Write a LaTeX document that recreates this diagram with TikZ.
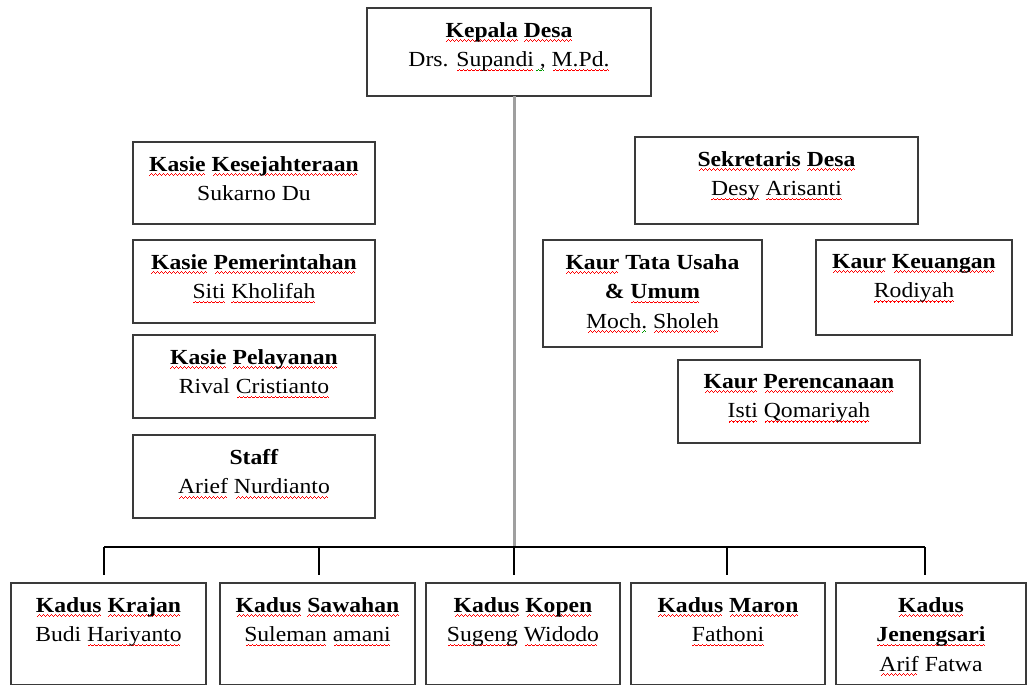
\documentclass[tikz,border=0pt]{standalone}
\usepackage{fontspec}
\setmainfont{Liberation Serif}[FakeStretch=1.1]
\usepackage{xcolor}
\newcommand\wavepiece{\hbox{\rule[-4.8pt]{1pt}{1.1pt}\rule[-4.0pt]{1pt}{1.1pt}\rule[-3.2pt]{1pt}{1.1pt}\rule[-4.0pt]{1pt}{1.1pt}}}
\newsavebox\wavebox
\newcommand\wavemark[2]{\sbox\wavebox{#2}\rlap{\textcolor{#1}{\hbox to \wd\wavebox{\cleaders\wavepiece\hfill}}}\usebox\wavebox}
\newcommand\rw[1]{\wavemark{red}{#1}}
\newcommand\gw[1]{\wavemark{green!60!black}{#1}}
\definecolor{boxline}{HTML}{3A3A3A}
\newcommand\obox[6]{%
  \node[orgbox, minimum width={(#4-#2)*1pt}, minimum height={(#5-#3)*1pt}] (#1) at ({(#2+#4)/2},{(#3+#5)/2}) {};
  \node[lbl] (#1-t) at ([yshift=-14pt]#1.north) {#6};
}
\begin{document}
\begin{tikzpicture}[x=1pt,y=-1pt,
  orgbox/.style={draw=boxline, line width=1.5pt, fill=white, inner sep=0pt, outer sep=0pt},
  lbl/.style={anchor=north, inner sep=0pt, align=center, font=\fontsize{21.5}{29.5}\selectfont, execute at begin node={\rule{0pt}{16pt}}},
  conn/.style={draw=black, line width=1.4pt},
  mainline/.style={draw=gray!75, line width=3pt}]
\fill[white] (0,0) rectangle (1028,686);
\useasboundingbox (0,0) rectangle (1028,686);

\obox{kepala}{367}{8}{651}{96}{\textbf{\rw{Kepala} \rw{Desa}}\\Drs. \rw{Supandi}\gw{\ ,} \rw{M.Pd.}}

\obox{kes}{133}{142}{375}{224}{\textbf{\rw{Kasie} \rw{Kesejahteraan}}\\Sukarno Du}
\obox{pem}{133}{240}{375}{323}{\textbf{\rw{Kasie} \rw{Pemerintahan}}\\\rw{Siti} \rw{Kholifah}}
\obox{pel}{133}{335}{375}{418}{\textbf{\rw{Kasie} \rw{Pelayanan}}\\Rival \rw{Cristianto}}
\obox{staff}{133}{435}{375}{518}{\textbf{Staff}\\\rw{Arief} \rw{Nurdianto}}

\obox{sek}{635}{137}{918}{224}{\textbf{\rw{Sekretaris} \rw{Desa}}\\\rw{Desy} \rw{Arisanti}}
\obox{tata}{543}{240}{762}{347}{\textbf{\rw{Kaur} Tata Usaha}\\\textbf{\& \rw{Umum}}\\\rw{Moch}\gw{.} \rw{Sholeh}}
\obox{keu}{816}{240}{1012}{335}{\textbf{\rw{Kaur} \rw{Keuangan}}\\\rw{Rodiyah}}
\obox{ren}{678}{360}{920}{443}{\textbf{\rw{Kaur} \rw{Perencanaan}}\\\rw{Isti} \rw{Qomariyah}}

\obox{krajan}{11}{583}{206}{684.5}{\textbf{\rw{Kadus} \rw{Krajan}}\\Budi \rw{Hariyanto}}
\obox{sawahan}{220}{583}{415}{684.5}{\textbf{\rw{Kadus} \rw{Sawahan}}\\\rw{Suleman} \rw{amani}}
\obox{kopen}{426}{583}{620}{684.5}{\textbf{\rw{Kadus} \rw{Kopen}}\\\rw{Sugeng} \rw{Widodo}}
\obox{maron}{631}{583}{825}{684.5}{\textbf{\rw{Kadus} \rw{Maron}}\\\rw{Fathoni}}
\obox{jeng}{836}{583}{1026}{684.5}{\textbf{\rw{Kadus}}\\\textbf{\rw{Jenengsari}}\\\rw{Arif} Fatwa}

% connectors
\coordinate (ktop) at ([xshift=5.5pt]kepala.south);
\coordinate (bmid) at (514.5,547);
\coordinate (busL) at (104,547);
\coordinate (busR) at (925,547);
\coordinate (b1) at (104,547);  \coordinate (e1) at (104,575);
\coordinate (b2) at (319,547);  \coordinate (e2) at (319,575);
\coordinate (b3) at (514,547);  \coordinate (e3) at (514,575);
\coordinate (b4) at (727,547);  \coordinate (e4) at (727,575);
\coordinate (b5) at (925,547);  \coordinate (e5) at (925,575);

\draw[mainline] (ktop) -- (bmid);
\draw[conn] (busL) -- (busR);
\draw[conn] (b1) -- (e1);
\draw[conn] (b2) -- (e2);
\draw[conn] (b3) -- (e3);
\draw[conn] (b4) -- (e4);
\draw[conn] (b5) -- (e5);
\end{tikzpicture}
\end{document}
